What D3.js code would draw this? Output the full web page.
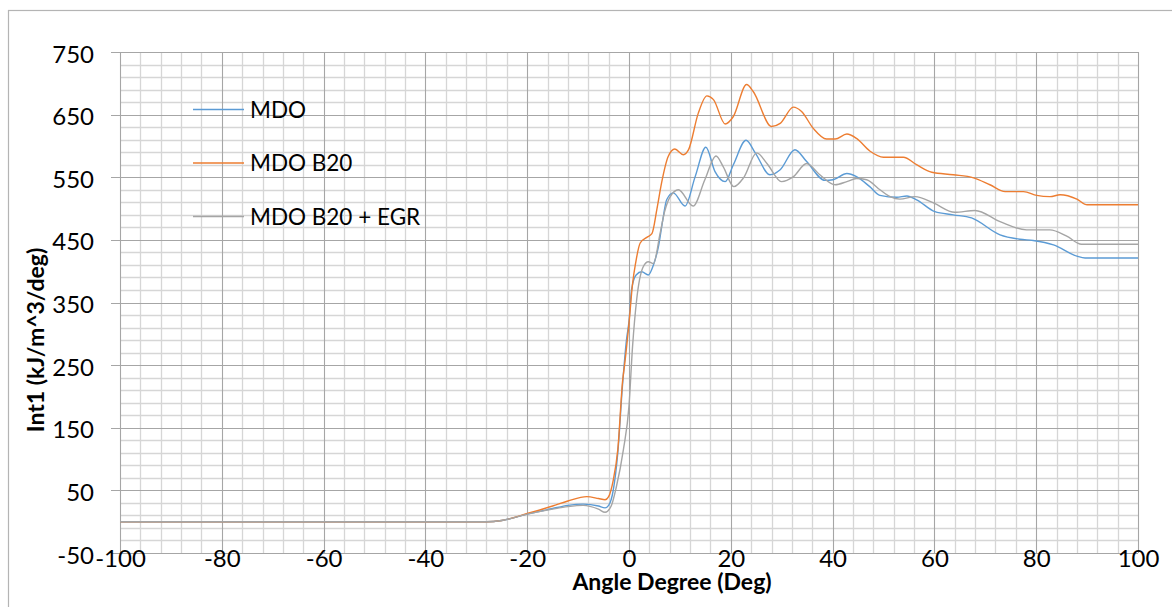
<!DOCTYPE html>
<html>
<head>
<meta charset="utf-8">
<script src="https://cdn.jsdelivr.net/npm/d3@7"></script>
<style>
  html, body { margin: 0; padding: 0; background: #fff; }
  svg { display: block; }
  text { font-family: Lato, "Open Sans", sans-serif; fill: #000; }
</style>
</head>
<body>
<svg id="chart" width="1172" height="607"></svg>
<script>
// ---- data ----
const seriesNames = ["MDO", "MDO B20", "MDO B20 + EGR"];
const seriesColors = ["#5B9BD5", "#ED7D31", "#A5A5A5"];

const mdoAngle = [-100,-28,-25,-20,-15,-12,-9,-6,-4.7,-4,-3.1,-2.2,-1.3,-0.5,0,0.5,1.4,2.5,3.8,4.8,5.8,6.6,7.4,8.7,11,13,15.1,16.9,18.9,20.5,23,24.8,27.7,29.7,32.6,34.9,38.5,40.1,42.8,44.7,47.3,49.3,52.6,54.6,56.5,60.1,63.7,67.3,72.9,76.8,79.4,83.4,88,89.6,100];
const mdoValue = [0,0,2,12,21,26,28,25,22,26,50,110,215,290,320,370,394,399,394,410,440,480,514,525,504,551,598,559,543,570,609,589,554,562,594,575,545,546,556,551,535,521,518,520,514,495,490,485,458,451,449,442,424,421,421];

const b20Angle = [-100,-28,-25,-20,-15,-12,-8.3,-6,-4.7,-4,-3.1,-2.2,-1.24,-0.9,0,0.7,1.3,2.2,3.5,4.5,5.5,6.4,7.7,9,10.7,11.7,13.6,15.3,16.6,18.9,20.5,23.1,24.4,28,29.7,32.3,33.9,36.2,38.8,40.5,42.8,44.7,47.3,50,53.9,56.5,59.5,63.7,67.7,70.9,73.9,77.5,80.1,82.7,84.7,88,90,100];
const b20Value = [0,0,2,13,25,33,40,37,35,40,66,115,226,248,317,380,413,445,454,460,500,541,583,595,586,594,652,680,674,635,647,698,687,631,636,662,655,628,611,611,619,612,592,582,582,570,558,554,549,538,527,527,521,519,522,515,506,506];

const egrAngle = [-100,-28,-25,-20,-15,-12,-9,-6,-4.7,-3.5,-2.5,-1.1,0,0.7,1.5,2.8,3.8,4.8,6.1,7,8.1,9.7,12.6,14.9,17.1,18.5,20.6,22.5,25.1,27.1,30,32.3,34.9,37.5,40.5,42.8,44.7,46.7,49.3,51.3,53.2,56.2,59.8,64,68,72.9,78.1,82.7,86,88.9,90,100];
const egrValue = [0,0,2,12,20,24,26,20,15,25,55,115,185,280,354,407,415,412,460,495,519,530,504,546,584,567,535,549,589,572,543,551,572,554,538,543,548,546,530,519,515,519,509,494,497,479,466,466,456,443,443,443];

const xTicks = [-100,-80,-60,-40,-20,0,20,40,60,80,100];
const yTicks = [-50,50,150,250,350,450,550,650,750];
const xMinorStep = 4;
const yMinorStep = 20;

// ---- layout ----
const svg = d3.select("#chart");
const W = 1172, H = 607;
const plot = { left: 120, right: 1138, top: 52, bottom: 553 };

const x = d3.scaleLinear().domain([-100, 100]).range([plot.left, plot.right]);
const y = d3.scaleLinear().domain([-50, 750]).range([plot.bottom, plot.top]);
const fmt = d => String(d);

svg.append("rect").attr("width", W).attr("height", H).attr("fill", "#fff");
// outer chart border (chart is cropped on right/bottom)
svg.append("rect").attr("x", 8.5).attr("y", 10.5).attr("width", 1400).attr("height", 800)
  .attr("fill", "none").attr("stroke", "#b4b4b4").attr("stroke-width", 1.2);

const grid = svg.append("g");
// minor grid
const xMinor = d3.range(-100, 100.001, xMinorStep).filter(v => !xTicks.includes(Math.round(v)));
const yMinor = d3.range(-50, 750.001, yMinorStep).filter(v => !yTicks.includes(Math.round(v)));
grid.selectAll(".xm").data(xMinor).join("line")
  .attr("x1", d => Math.round(x(d)) + 0.5).attr("x2", d => Math.round(x(d)) + 0.5)
  .attr("y1", plot.top).attr("y2", plot.bottom)
  .attr("stroke", "#d6d6d6").attr("stroke-width", 1.3);
grid.selectAll(".ym").data(yMinor).join("line")
  .attr("y1", d => Math.round(y(d)) + 0.5).attr("y2", d => Math.round(y(d)) + 0.5)
  .attr("x1", plot.left).attr("x2", plot.right)
  .attr("stroke", "#d6d6d6").attr("stroke-width", 1.3);
// major grid
grid.selectAll(".xM").data(xTicks).join("line")
  .attr("x1", d => Math.round(x(d)) + 0.5).attr("x2", d => Math.round(x(d)) + 0.5)
  .attr("y1", plot.top).attr("y2", plot.bottom)
  .attr("stroke", "#a6a6a6").attr("stroke-width", 1.1);
grid.selectAll(".yM").data(yTicks).join("line")
  .attr("y1", d => Math.round(y(d)) + 0.5).attr("y2", d => Math.round(y(d)) + 0.5)
  .attr("x1", plot.left - 9).attr("x2", plot.right)
  .attr("stroke", "#a6a6a6").attr("stroke-width", 1.1);

// axes labels via d3 axes (no domain/ticks drawn, only text)
const yAxis = svg.append("g").attr("transform", `translate(${plot.left},0)`)
  .call(d3.axisLeft(y).tickValues(yTicks).tickSize(0).tickPadding(26).tickFormat(fmt));
yAxis.select(".domain").remove();
yAxis.selectAll("text").attr("font-family", "Lato, sans-serif").attr("font-size", 24).attr("fill", "#000").attr("dy", "0.42em");

const xAxis = svg.append("g").attr("transform", `translate(0,${plot.bottom})`)
  .call(d3.axisBottom(x).tickValues(xTicks).tickSize(0).tickPadding(0).tickFormat(fmt));
xAxis.select(".domain").remove();
xAxis.selectAll("text").attr("font-family", "Lato, sans-serif").attr("font-size", 24).attr("fill", "#000")
  .attr("dy", null).attr("y", 14);

// series lines
const line = d3.line().x(d => x(d[0])).y(d => y(d[1])).curve(d3.curveMonotoneX);
const series = [
  mdoAngle.map((a, i) => [a, mdoValue[i]]),
  b20Angle.map((a, i) => [a, b20Value[i]]),
  egrAngle.map((a, i) => [a, egrValue[i]])
];
svg.append("g").selectAll("path").data(series).join("path")
  .attr("d", line).attr("fill", "none")
  .attr("stroke", (d, i) => seriesColors[i]).attr("stroke-width", 1.4);

// legend
const lg = svg.append("g");
const legendY = [109.5, 163, 216.5];
seriesNames.forEach((n, i) => {
  lg.append("line").attr("x1", 193).attr("x2", 244).attr("y1", legendY[i]).attr("y2", legendY[i])
    .attr("stroke", seriesColors[i]).attr("stroke-width", 1.4);
  lg.append("text").attr("x", 250).attr("y", legendY[i]).attr("dy", "0.36em")
    .attr("font-size", 22.5).text(n);
});

// axis titles
svg.append("text").attr("x", 672).attr("y", 590).attr("text-anchor", "middle")
  .attr("font-weight", "bold").attr("font-size", 23).text("Angle Degree (Deg)");
svg.append("text").attr("transform", "translate(44,340) rotate(-90)").attr("text-anchor", "middle")
  .attr("font-weight", "bold").attr("font-size", 23).text("Int1 (kJ/m^3/deg)");
</script>
</body>
</html>
